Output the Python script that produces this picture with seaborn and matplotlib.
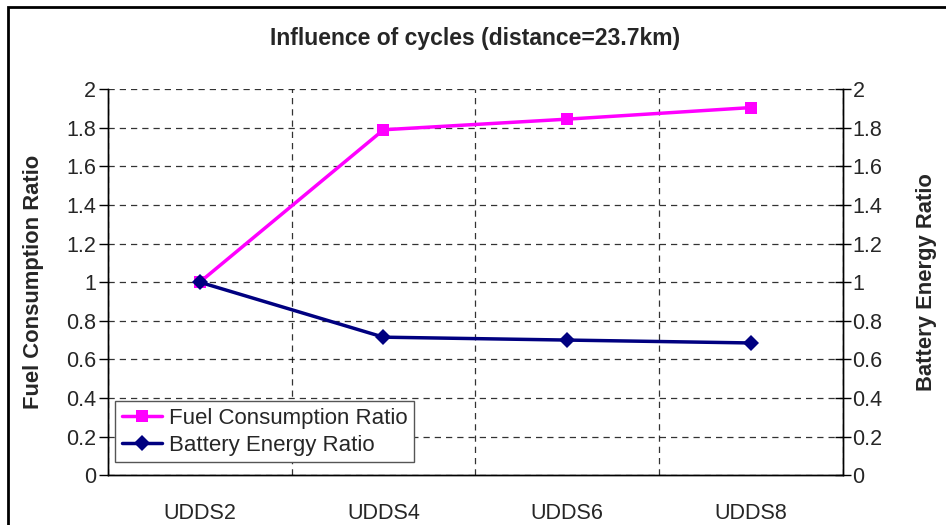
import numpy as np
import pandas as pd
import seaborn as sns
import matplotlib.pyplot as plt
from matplotlib.lines import Line2D
from matplotlib.patches import Rectangle

cycles = ["UDDS2", "UDDS4", "UDDS6", "UDDS8"]
fuel_ratio = [1.0, 1.79, 1.845, 1.905]
battery_ratio = [1.0, 0.715, 0.70, 0.685]
y_ticks = [0, 0.2, 0.4, 0.6, 0.8, 1, 1.2, 1.4, 1.6, 1.8, 2]
y_labels = ["0", "0.2", "0.4", "0.6", "0.8", "1", "1.2", "1.4", "1.6", "1.8", "2"]

df = pd.DataFrame({"cycle": cycles, "fuel": fuel_ratio, "battery": battery_ratio})

sns.set_style("white")
plt.rcParams['font.family'] = ['Liberation Sans', 'DejaVu Sans']

fig = plt.figure(figsize=(9.46, 5.25), dpi=100)
ax = fig.add_axes([0.114, 0.095, 0.777, 0.735])
ax2 = ax.twinx()

fuel_col = "#FF00FF"
batt_col = "#000080"
fs = 15.5

sns.lineplot(data=df, x="cycle", y="fuel", ax=ax, color=fuel_col, lw=2.5,
             marker="s", markersize=9, markeredgewidth=0, sort=False)
sns.lineplot(data=df, x="cycle", y="battery", ax=ax2, color=batt_col, lw=2.5,
             marker="D", markersize=8, markeredgewidth=0, sort=False)

for a in (ax, ax2):
    a.set_ylim(0, 2)
    a.set_xlim(-0.5, 3.5)
    a.set_yticks(y_ticks)
    a.set_yticklabels(y_labels, fontsize=fs)
    a.spines['top'].set_visible(False)
    for s in ['left', 'right', 'bottom']:
        a.spines[s].set_color('black')
        a.spines[s].set_linewidth(1.0)

# x ticks at category boundaries, labels at centers
ax.set_xticks(np.arange(-0.5, 4, 1))
ax.set_xticklabels([])
ax.set_xticks(np.arange(len(cycles)), minor=True)
ax.set_xticklabels(cycles, minor=True, fontsize=fs)
ax.tick_params(axis='x', which='major', direction='inout', length=10, width=1, color='black')
ax.tick_params(axis='x', which='minor', length=0, pad=20)
ax.tick_params(axis='y', direction='out', length=6.5, width=1, color='black', pad=2)
ax2.tick_params(axis='y', direction='inout', length=12, width=1, color='black', pad=1)

ax.grid(True, which='major', axis='both', color='black', linestyle=(0, (5, 4)), linewidth=0.9, alpha=0.8)
ax.set_axisbelow(True)

ax.set_xlabel("")
ax.set_ylabel("Fuel Consumption Ratio", fontsize=15.8, fontweight='bold', labelpad=16)
ax2.set_ylabel("Battery Energy Ratio", fontsize=15.8, fontweight='bold', labelpad=24)
ax.set_title("Influence of cycles (distance=23.7km)", fontsize=16.5, fontweight='bold', pad=32)

handles = [
    Line2D([], [], color=fuel_col, lw=2.5, marker="s", markersize=9, markeredgewidth=0),
    Line2D([], [], color=batt_col, lw=2.5, marker="D", markersize=8, markeredgewidth=0),
]
leg = ax2.legend(handles, ["Fuel Consumption Ratio", "Battery Energy Ratio"],
                 loc='lower left', bbox_to_anchor=(0.004, 0.022), fontsize=16,
                 frameon=True, fancybox=False, framealpha=1, edgecolor='#555555',
                 handlelength=1.8, borderpad=0.3, labelspacing=0.25, handletextpad=0.3,
                 borderaxespad=0.2)
leg.get_frame().set_linewidth(1.0)

fig.patches.append(Rectangle((8 / 946, -0.1), 1.1, 1.1 - 7 / 525, transform=fig.transFigure,
                             fill=False, edgecolor='black', linewidth=2, zorder=10))

fig.savefig("out.png", dpi=100)
